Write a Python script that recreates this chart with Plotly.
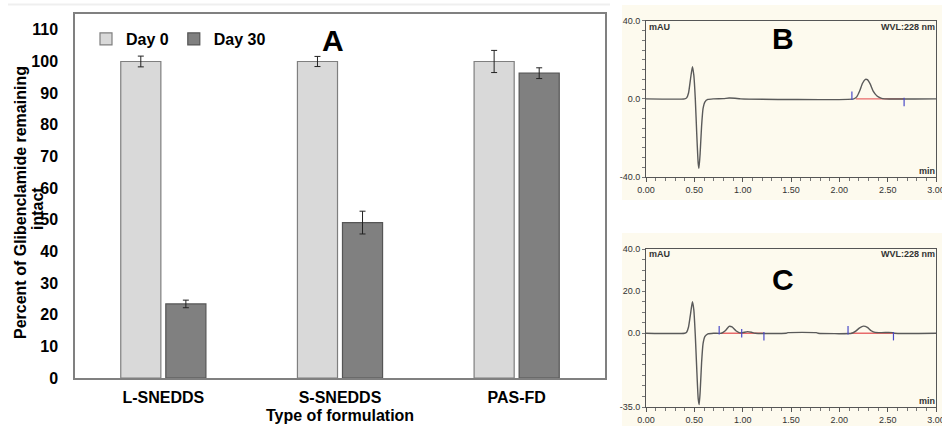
import plotly.graph_objects as go

W, H = 942, 426
def px(x): return x / W
def py(y): return 1 - y / H

FONT = "Liberation Sans, Arial, sans-serif"

# ---- Panel A data ----
categories = ["L-SNEDDS", "S-SNEDDS", "PAS-FD"]
day0 = [100, 100, 100]
day0_err = [1.7, 1.6, 3.5]
day30 = [23.4, 49.1, 96.3]
day30_err = [1.2, 3.6, 1.7]
a_yticks = [0, 10, 20, 30, 40, 50, 60, 70, 80, 90, 100, 110]

# ---- Panel B chromatogram (min, mAU) ----
b_time = [0.00, 0.40, 0.42, 0.44, 0.46, 0.48, 0.495, 0.51, 0.525, 0.54, 0.548, 0.56, 0.575,
          0.59, 0.61, 0.64, 0.70, 0.80, 0.86, 0.92, 0.98, 2.15, 2.18, 2.21, 2.24, 2.27, 2.29,
          2.32, 2.35, 2.39, 2.43, 2.47, 3.00]
b_mau = [0, 0, 0.5, 3, 10, 16.5, 12, 0, -18, -33, -35.5, -28, -14,
         -5, -1.5, -0.3, 0, 0.1, 0.4, 0.3, 0, 0, 1, 4, 8, 10, 9.8,
         7.5, 4, 1.5, 0.4, 0, 0]
b_base_start = [2.17]
b_base_end = [2.67]
b_mark_time = [2.13, 2.67]
b_mark_dir = [1, -1]

# ---- Panel C chromatogram (min, mAU) ----
c_time = [0.00, 0.40, 0.42, 0.44, 0.46, 0.48, 0.495, 0.51, 0.525, 0.54, 0.55, 0.56, 0.575,
          0.59, 0.61, 0.64, 0.70, 0.78, 0.82, 0.86, 0.89, 0.93, 0.97, 1.00, 1.05, 1.09, 1.13,
          1.45, 1.47, 1.76, 1.78, 2.13, 2.17, 2.21, 2.25, 2.29, 2.33, 2.37, 2.55, 2.57, 3.00]
c_mau = [0, 0, 0.5, 3, 9, 15, 11, -1, -17, -31, -33.8, -28, -14,
         -5, -1.5, -0.3, 0, 0, 1.2, 3.3, 3.0, 1.2, 0.2, 0.3, 0.8, 0.5, 0,
         0, 0.3, 0.3, 0, 0, 1, 2.6, 3.4, 2.8, 1.2, 0.4, 0.3, 0, 0]
c_base_start = [0.78, 2.12]
c_base_end = [1.22, 2.56]
c_mark_time = [0.757, 0.99, 1.22, 2.09, 2.56]
c_mark_dir = [1, 0, -1, 1, -1]

chrom_xticks = [0.0, 0.5, 1.0, 1.5, 2.0, 2.5, 3.0]
chrom_xticktext = ["0.00", "0.50", "1.00", "1.50", "2.00", "2.50", "3.00"]

fig = go.Figure()

# Bars
fig.add_trace(go.Bar(
    x=categories, y=day0, name="Day 0",
    marker=dict(color="#d9d9d9", line=dict(color="#7f7f7f", width=1.2)),
    error_y=dict(type="data", array=day0_err, color="#222", thickness=1, width=3),
    xaxis="x", yaxis="y"))
fig.add_trace(go.Bar(
    x=categories, y=day30, name="Day 30",
    marker=dict(color="#808080", line=dict(color="#555555", width=1.2)),
    error_y=dict(type="data", array=day30_err, color="#222", thickness=1, width=3),
    xaxis="x", yaxis="y"))

LINE_C = "#5a5a5a"
RED = "#e86a6a"
BLUE = "#4a4ac8"

def add_chrom(t, v, starts, ends, mt, md, xa, ya, scale):
    for s, e in zip(starts, ends):
        fig.add_trace(go.Scatter(x=[s, e], y=[0, 0], mode="lines",
                                 line=dict(color=RED, width=1.3), showlegend=False,
                                 hoverinfo="skip", xaxis=xa, yaxis=ya))
    fig.add_trace(go.Scatter(x=t, y=v, mode="lines",
                             line=dict(color=LINE_C, width=1.4, shape="spline", smoothing=0.5),
                             showlegend=False, xaxis=xa, yaxis=ya))
    fig.add_trace(go.Scatter(x=mt, y=[d * scale for d in md], mode="markers",
                             marker=dict(symbol="line-ns-open", size=6, color=BLUE,
                                         line=dict(color=BLUE, width=1.2)),
                             showlegend=False, hoverinfo="skip", xaxis=xa, yaxis=ya))

add_chrom(b_time, b_mau, b_base_start, b_base_end, b_mark_time, b_mark_dir, "x2", "y2", 1.6)
add_chrom(c_time, c_mau, c_base_start, c_base_end, c_mark_time, c_mark_dir, "x3", "y3", 1.4)

tickfontA = dict(family=FONT, size=16, color="#000", weight="bold")
chrom_font = dict(family=FONT, size=9, color="#333")

chrom_x = dict(range=[0, 3], tickvals=chrom_xticks, ticktext=chrom_xticktext,
               ticks="outside", ticklen=4, tickcolor="#555", showline=True, linecolor="#555",
               linewidth=1, mirror=True, showgrid=False, zeroline=False, tickfont=chrom_font,
               automargin=False, ticklabeloverflow="allow",
               minor=dict(dtick=0.1, ticks="outside", ticklen=2.5, tickcolor="#777"))
chrom_y = dict(ticks="outside", ticklen=3, tickcolor="#777", showline=True, linecolor="#555",
               linewidth=1, mirror=True, showgrid=False, zeroline=False, tickfont=chrom_font,
               automargin=False, ticklabeloverflow="allow")

fig.update_layout(
    width=W, height=H, margin=dict(l=0, r=0, t=0, b=0, autoexpand=False),
    paper_bgcolor="white", plot_bgcolor="rgba(0,0,0,0)",
    barmode="group", bargap=0.49, bargroupgap=0.11,
    showlegend=True,
    legend=dict(orientation="h", x=px(86), y=py(22), xanchor="left", yanchor="top",
                font=dict(family=FONT, size=16, color="#000", weight="bold"),
                bgcolor="rgba(0,0,0,0)", itemwidth=30, traceorder="normal"),
    xaxis=dict(domain=[px(75), px(605)], range=[-0.5, 2.5], showline=True,
               linecolor="#808080", linewidth=1.5, mirror=True, ticks="",
               tickfont=tickfontA, ticklabelstandoff=4, showgrid=False, zeroline=False,
               automargin=False),
    yaxis=dict(domain=[py(378), py(14)], range=[0, 115], tickvals=a_yticks,
               showline=True, linecolor="#808080", linewidth=1.5, mirror=True, ticks="",
               tickfont=tickfontA, ticklabelstandoff=12, showgrid=False, zeroline=False,
               automargin=False),
    xaxis2=dict(domain=[px(646), px(936)], anchor="y2", **chrom_x),
    yaxis2=dict(domain=[py(177), py(20.7)], range=[-40, 40], anchor="x2",
                tickvals=[-40, -35, -30, -25, -20, -15, -10, -5, 0, 5, 10, 15, 20, 25, 30, 35, 40],
                ticktext=["-40.0", "", "", "", "", "", "", "", "0.0", "", "", "", "", "", "", "", "40.0"],
                **chrom_y),
    xaxis3=dict(domain=[px(646), px(936)], anchor="y3", **chrom_x),
    yaxis3=dict(domain=[py(407), py(249)], range=[-35, 40], anchor="x3",
                tickvals=[-35, -30, -25, -20, -15, -10, -5, 0, 5, 10, 15, 20, 25, 30, 35, 40],
                ticktext=["-35.0", "", "", "", "", "", "", "0.0", "", "", "", "20.0", "", "", "", "40.0"],
                **chrom_y),
)

shapes = [
    dict(type="line", xref="paper", yref="paper", x0=px(8), x1=px(610), y0=py(4.5), y1=py(4.5),
         line=dict(color="#efefef", width=2)),
    dict(type="rect", xref="paper", yref="paper", x0=px(622), x1=1, y0=py(200), y1=py(5),
         fillcolor="#fdfaee", line=dict(width=0), layer="below"),
    dict(type="rect", xref="paper", yref="paper", x0=px(622), x1=1, y0=0, y1=py(233),
         fillcolor="#fdfaee", line=dict(width=0), layer="below"),
]
fig.update_layout(shapes=shapes)

def ann(text, x, y, size, xanchor="center", weight="bold", angle=0, color="#000"):
    return dict(text=text, x=px(x), y=py(y), xref="paper", yref="paper", showarrow=False,
                xanchor=xanchor, yanchor="middle", textangle=angle,
                font=dict(family=FONT, size=size, color=color, weight=weight))

annotations = [
    ann("A", 333, 41, 30),
    ann("B", 783, 39, 30),
    ann("C", 783, 279, 30),
    ann("Percent of Glibenclamide remaining", 20, 203, 16, angle=-90),
    ann("intact", 37, 209, 16, angle=-90),
    ann("Type of formulation", 340, 415, 16),
    ann("mAU", 647, 27, 9, xanchor="left", color="#333"),
    ann("WVL:228 nm", 937, 27, 9, xanchor="right", color="#333"),
    ann("min", 937, 171, 9, xanchor="right", color="#333"),
    ann("mAU", 647, 254, 9, xanchor="left", color="#333"),
    ann("WVL:228 nm", 937, 254, 9, xanchor="right", color="#333"),
    ann("min", 937, 401, 9, xanchor="right", color="#333"),
]
fig.update_layout(annotations=annotations)

fig.write_html("out.html", config={"displayModeBar": False},
               post_script="document.body.style.margin='0';document.body.style.overflow='hidden';")
